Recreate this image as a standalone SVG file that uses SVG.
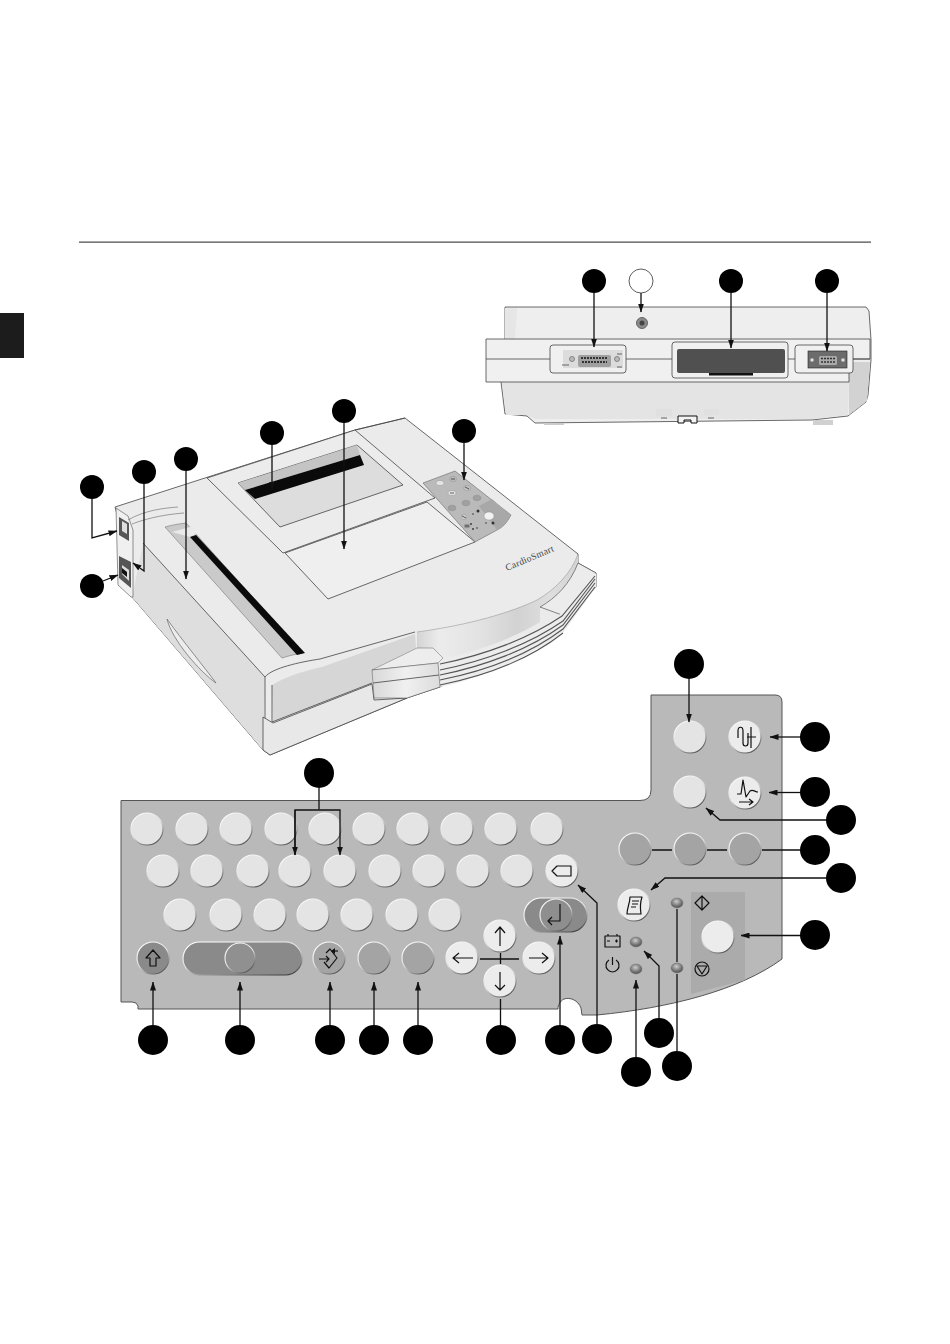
<svg xmlns="http://www.w3.org/2000/svg" width="950" height="1344" viewBox="0 0 950 1344">
<style>
.k{fill:#e4e4e4;stroke:url(#edge);stroke-width:1.2}
.kw{fill:#ececec;stroke:url(#edge);stroke-width:1.2}
.d{fill:#a4a4a4;stroke:url(#edge);stroke-width:1.2}
.dd{fill:#8a8a8a;stroke:url(#edge);stroke-width:1.2}
.c{fill:#000}
.cs{fill:#000}
.ln{fill:none;stroke:#111;stroke-width:1.3}
.ic{fill:none;stroke:#111;stroke-width:1.2;stroke-linejoin:round}
.o{stroke:#444;stroke-width:.8;stroke-linejoin:round}
.t{fill:none;stroke:#444;stroke-width:.8}
.led{fill:url(#led);stroke:#777;stroke-width:.5}
</style>
<defs>
<linearGradient id="edge" x1="0.2" y1="0" x2="0.8" y2="1"><stop offset="0" stop-color="#fff"/><stop offset=".5" stop-color="#ddd"/><stop offset="1" stop-color="#444"/></linearGradient>
<radialGradient id="led" cx=".45" cy=".35" r=".7"><stop offset="0" stop-color="#ccc"/><stop offset=".6" stop-color="#777"/><stop offset="1" stop-color="#444"/></radialGradient>
<linearGradient id="wall" x1="0" y1="0" x2="1" y2="0"><stop offset="0" stop-color="#d4d4d4"/><stop offset=".14" stop-color="#ececec"/><stop offset=".4" stop-color="#e2e2e2"/><stop offset=".62" stop-color="#d2d2d2"/><stop offset=".82" stop-color="#dedede"/><stop offset="1" stop-color="#d4d4d4"/></linearGradient>
<linearGradient id="hand" x1="0" y1="0" x2="1" y2="0"><stop offset="0" stop-color="#d8d8d8"/><stop offset=".5" stop-color="#f0f0f0"/><stop offset="1" stop-color="#dcdcdc"/></linearGradient>
<marker id="a" markerWidth="9" markerHeight="6" refX="8.500" refY="3" orient="auto" markerUnits="userSpaceOnUse"><path d="M0 0L9 3L0 6Z" fill="#111"/></marker>
</defs>
<rect width="950" height="1344" fill="#fff"/>
<rect id="rule" x="79" y="241.6" width="792" height="1" fill="#222"/>
<rect id="tab" x="0" y="313" width="24" height="45" fill="#1c1c1c"/>

<g id="rear-view">
<path class="o" fill="#eeeeee" d="M505 307H866L869 311L871 340V360L868 395L866 402L848 416L812 420L535 423L527 416L505 414L501 382L505 339Z"/>
<path fill="#e4e4e4" d="M502 382H849L848 415L812 419H535L527 415H506Z"/>
<path fill="#d2d2d2" d="M849 362H870L867 401L849 415Z"/>
<path fill="#e6e6e6" d="M505 308H517L515 339H505Z"/>
<path class="o" fill="#f0f0f0" d="M486 339H870V359H849V382H486Z"/>
<path class="t" d="M486 359H550M626 359H672M788 359H795M853 359H870"/>
<rect class="o" x="550" y="345" width="76" height="28" rx="3" fill="#f0f0f0"/>
<rect x="563" y="350" width="60" height="18" fill="#dcdcdc"/>
<rect x="578" y="355" width="33" height="12" rx="2" fill="#a0a0a0"/>
<path fill="none" stroke="#333" stroke-width="2" stroke-dasharray="2 1" d="M581 358H608M582 362H607"/>
<circle cx="572" cy="359" r="2.500" fill="#bbb" stroke="#666" stroke-width=".7"/><circle cx="617" cy="359" r="2.500" fill="#bbb" stroke="#666" stroke-width=".7"/>
<path class="t" d="M562 365H569M617 354H622M617 367H622"/>
<rect class="o" x="672" y="342" width="116" height="36" rx="3" fill="#f0f0f0"/>
<rect x="677" y="349" width="108" height="24" rx="2" fill="#505050"/>
<rect x="709" y="373" width="44" height="2.500" fill="#111"/>
<rect class="o" x="795" y="345" width="58" height="28" rx="3" fill="#f0f0f0"/>
<rect x="808" y="351" width="39" height="17" fill="#6c6c6c" stroke="#222" stroke-width=".6"/>
<rect x="819" y="356" width="18" height="9" rx="1.500" fill="#aaa"/>
<path fill="none" stroke="#333" stroke-width="1.500" stroke-dasharray="2 1" d="M821 358.500H835M821 362H835"/>
<circle cx="812" cy="360" r="1.800" fill="#ddd"/><circle cx="843" cy="360" r="1.800" fill="#ddd"/>
<circle cx="642" cy="323" r="5.500" fill="#8a8a8a" stroke="#666"/><circle cx="642" cy="323" r="2.500" fill="#444"/>
<path fill="#e0e0e0" d="M656 417V409H672V416ZM704 416V409H719V415Z"/>
<path class="t" d="M661 418H667M708 418H714" stroke-width="1.400"/>
<path fill="#f4f4f4" stroke="#111" stroke-width="1" d="M678 423V416H697V423H691V420H684V423Z"/>
<rect x="544" y="423" width="20" height="2" fill="#ccc"/><rect x="813" y="420" width="20" height="5" fill="#d0d0d0"/>
</g>

<g id="printer">
<path fill="#ebebeb" class="o" d="M115 507L205 478L355 430L405 418L578 554V563L596 573V587L563 622L440 687L407 698L270 755L263 750L132 597L131 565L115 507Z"/>
<!-- side face -->
<path fill="#dedede" d="M143 543L265 677L263 750L132 597Z"/>
<path fill="#ececec" d="M131 512L143 543L132 597Z"/>
<path class="t" d="M143 543L265 677V750"/>
<path fill="#ededed" stroke="#666" stroke-width=".7" d="M167 619C172 640 200 672 216 683C205 668 182 640 167 619Z"/>
<!-- left end -->
<path fill="#f0f0f0" stroke="#666" stroke-width=".7" d="M116 508L128 516L133 530V597H131L118 585Z"/>
<path fill="#555" d="M119 517L129 523V541L119 535Z"/>
<path fill="#ddd" d="M122 521L127 524V534L122 531Z"/>
<path fill="#f0f0f0" d="M119 538L131 543V559L119 553Z"/>
<path fill="#555" d="M119 556L131 562V588L119 578Z"/>
<path fill="#ddd" d="M122 565L129 570V581L122 574Z"/>
<path fill="#111" d="M122 568L127 572V577L122 573Z"/>
<path class="t" stroke-opacity=".6" d="M128 520C145 510 165 508 178 507M132 524C150 517 170 514 184 513"/>
<!-- printer slot -->
<path fill="#cacaca" stroke="#777" stroke-width=".6" d="M165 527C172 525 178 524 186 523L303 653C296 654 288 656 282 658Z"/>
<path fill="#e9e9e9" d="M172 532L194 526L196 534L190 537Z"/>
<path fill="#0a0a0a" d="M190 537L196 535L305 653L297 655Z"/>
<!-- front block -->
<path fill="#d6d6d6" d="M272 685C288 676 300 672 322 667L415 634L416 648L372 670V683L273 722Z"/>
<path class="t" d="M265 677C272 668 300 662 320 659L415 632M272 685V722L372 683"/>
<path fill="#e8e8e8" class="o" d="M263 717L273 723L372 684L374 700L407 698L270 755L263 750Z"/>
<!-- lid -->
<path fill="#ececec" class="o" d="M207 478L355 430L435 498L283 553Z"/>
<path fill="#dddddd" class="o" d="M238 483L357 445L403 485L280 527Z"/>
<path fill="#c4c4c4" d="M238 483L357 445L360 455L245 490Z"/>
<path fill="#0a0a0a" d="M245 490L360 455L364 465L255 499Z"/>
<path fill="#efefef" class="o" d="M285 553L427 502L475 542L328 599Z"/>
<path class="t" d="M355 430L405 418"/>
<!-- curved wall -->
<path fill="url(#wall)" d="M417 632C470 625 512 612 537 600C555 590 572 572 578 554V563C570 584 556 598 540 606L540 622C510 640 475 652 440 659L417 648Z"/>
<path fill="none" stroke="#999" stroke-width=".6" d="M417 632C470 625 512 612 537 600C555 590 572 572 578 554"/>
<path fill="#ececec" stroke="#555" stroke-width=".7" d="M578 563L596 573C594 582 580 600 562 615L540 607C556 598 570 584 578 563Z"/>
<!-- grooves -->
<path fill="#ececec" d="M440 660C485 652 530 636 562 613L596 573V587L563 633C530 655 485 678 440 687Z"/>
<path fill="none" stroke="#555" stroke-width="1.100" d="M440 664C485 655 530 638 562 616L595 576M440 670C485 661 530 644 563 621L595 579M440 675C485 666 530 649 563 625L595 583M440 680C485 671 530 654 563 629L595 587M440 685C485 676 530 659 563 633"/>
<!-- handle -->
<path fill="#ededed" class="o" d="M372 670L417 648H433L443 658L438 663L372 670Z" stroke-opacity=".5"/>
<path fill="url(#hand)" class="o" d="M372 670L438 663L440 687L407 698H374Z" stroke-opacity=".6"/>
<path class="t" d="M373 683L439 675"/>
<!-- control panel -->
<path fill="#bababa" stroke="#666" stroke-width=".6" d="M423 483L455 471L511 515C506 524 503 527 497 530C488 535 482 538 475 542Z"/>
<path fill="#a8a8a8" d="M479 506L492 499L510 515C506 524 503 527 497 530Z"/>
<g fill="#e4e4e4" stroke="#888" stroke-width=".4">
<ellipse cx="440" cy="483" rx="4" ry="2.600"/><ellipse cx="453" cy="479" rx="3.500" ry="2.600" fill="#bbb"/><ellipse cx="452" cy="493" rx="4" ry="2.600"/><ellipse cx="467" cy="488" rx="3.500" ry="2.600" fill="#c4c4c4"/><ellipse cx="489" cy="516" rx="5" ry="4" fill="#f2f2f2"/>
<ellipse cx="452" cy="508" rx="4" ry="2.800" fill="#a0a0a0"/><ellipse cx="466" cy="503" rx="4" ry="2.800" fill="#a0a0a0"/><ellipse cx="477" cy="498" rx="4" ry="2.800" fill="#a0a0a0"/>
<ellipse cx="464" cy="517" rx="2.800" ry="2.600" fill="#d0d0d0"/><ellipse cx="467" cy="526" rx="3" ry="2" fill="#999"/>
</g>
<path fill="none" stroke="#222" stroke-width=".7" d="M451 479L455 479M465 487L469 489M450 493H454M462 516L466 518M465 526L469 526"/>
<g fill="#333"><circle cx="478" cy="511" r="1.500"/><circle cx="493" cy="523" r="1.500"/><circle cx="473" cy="514" r=".8"/><circle cx="473" cy="529" r=".9"/><circle cx="477" cy="528" r=".8"/><circle cx="471" cy="524" r=".9"/><circle cx="486" cy="523" r=".8"/></g>
<text id="brand" x="507" y="571" transform="rotate(-23 507 571)" font-family="'Liberation Serif',serif" font-size="9.500" letter-spacing=".3" fill="#444">CardioSmart</text>
</g>

<g id="keypad">
<path fill="#b9b9b9" stroke="#555" stroke-width="1" d="M121 800.500H640Q651 800.500 651 790V695H775Q782 695 782 702V959C740 990 670 1008 597 1015H582L581 1008C578 1000 570 997 564 999C560 1001 558 1005 558 1009H138V1006Q137 1002 132 1002H121Z"/>
<path fill="#ababab" d="M691 892H745V980L691 994Z"/>
</g>
<g id="keys">
<circle class="k" cx="147" cy="829" r="16"/><circle class="k" cx="192" cy="829" r="16"/><circle class="k" cx="236" cy="829" r="16"/><circle class="k" cx="281" cy="829" r="16"/><circle class="k" cx="325" cy="829" r="16"/><circle class="k" cx="369" cy="829" r="16"/><circle class="k" cx="413" cy="829" r="16"/><circle class="k" cx="457" cy="829" r="16"/><circle class="k" cx="501" cy="829" r="16"/><circle class="k" cx="547" cy="829" r="16"/>
<circle class="k" cx="163" cy="871" r="16"/><circle class="k" cx="207" cy="871" r="16"/><circle class="k" cx="253" cy="871" r="16"/><circle class="k" cx="295" cy="871" r="16"/><circle class="k" cx="340" cy="871" r="16"/><circle class="k" cx="385" cy="871" r="16"/><circle class="k" cx="429" cy="871" r="16"/><circle class="k" cx="473" cy="871" r="16"/><circle class="k" cx="517" cy="871" r="16"/>
<circle class="k" cx="180" cy="915" r="16"/><circle class="k" cx="226" cy="915" r="16"/><circle class="k" cx="270" cy="915" r="16"/><circle class="k" cx="313" cy="915" r="16"/><circle class="k" cx="357" cy="915" r="16"/><circle class="k" cx="402" cy="915" r="16"/><circle class="k" cx="445" cy="915" r="16"/>
<g id="key-backspace"><circle class="kw" cx="562" cy="871" r="16"/><path class="ic" d="M552 871L557 866H571V876H557Z"/></g>
<g id="key-shift"><circle class="dd" cx="153" cy="958" r="16"/><path class="ic" d="M153 950L146 958H150V966H156V958H160Z"/></g>
<g id="key-space"><rect class="dd" x="183" y="942" width="119" height="33" rx="16.500"/><circle fill="#909090" stroke="url(#edge)" stroke-width="1.200" cx="240" cy="958" r="15"/></g>
<g id="key-menu"><circle class="d" cx="329" cy="958" r="16"/><path class="ic" d="M326 953L330 949L337 958L329 968L324 962M319 959H329M326 956L329 959L326 962"/><path class="ic" d="M332 951H338"/><path d="M331 951L335 948V954Z" fill="#111"/></g>
<circle id="key-f1" class="d" cx="374" cy="958" r="16"/>
<circle id="key-f2" class="d" cx="418" cy="958" r="16"/>
<g id="key-enter"><rect class="dd" x="524" y="898" width="63" height="34" rx="17"/><circle fill="#8e8e8e" stroke="url(#edge)" stroke-width="1.200" cx="556" cy="915" r="16"/><path class="ic" d="M560 904V921H548M552 917L548 921L552 925" stroke-width="1.300"/></g>
<g id="key-up"><circle class="kw" cx="500" cy="936" r="16"/><path class="ic" d="M500 946V927M495 933L500 927L505 933"/></g>
<g id="key-left"><circle class="kw" cx="462" cy="958" r="16"/><path class="ic" d="M473 958H453M459 953L453 958L459 963"/></g>
<g id="key-right"><circle class="kw" cx="539" cy="958" r="16"/><path class="ic" d="M529 958H548M542 953L548 958L542 963"/></g>
<g id="key-down"><circle class="kw" cx="500" cy="981" r="16"/><path class="ic" d="M500 972V990M495 985L500 990L505 985"/></g>
<g id="key-print"><circle class="kw" cx="634" cy="905" r="16"/><path class="ic" d="M630 897H642C640 903 640 908 641 914H627C627 908 630 903 630 897ZM632 901H639M632 904H638M631 907H636"/></g>
<g id="key-start"><circle class="kw" cx="718" cy="937" r="16"/></g>
<circle id="key-a" class="k" cx="690" cy="737" r="16"/>
<g id="key-signal"><circle class="kw" cx="745" cy="737" r="16"/><path class="ic" d="M738 738V731C738 726 743 726 743 731V743C743 747 748 747 748 743V733M751 727V748M747 737H756"/></g>
<circle id="key-b" class="k" cx="690" cy="792" r="16"/>
<g id="key-ecg"><circle class="kw" cx="745" cy="793" r="16"/><path class="ic" d="M737 794H741L743 780L746 797L750 791C753 789 755 792 758 792M739 802H752M749 799L753 802L749 805"/></g>
<circle id="key-c" class="d" cx="635" cy="849" r="16"/>
<circle id="key-d" class="d" cx="690" cy="849" r="16"/>
<circle id="key-e" class="d" cx="745" cy="849" r="16"/>
<g id="indicators">
<ellipse class="led" cx="677" cy="903" rx="6" ry="5"/><ellipse class="led" cx="636" cy="942" rx="6" ry="5"/><ellipse class="led" cx="636" cy="969" rx="6" ry="5"/><ellipse class="led" cx="677" cy="968" rx="6" ry="5"/>
<path class="ic" d="M605 936H620V947H605ZM608 936V934M617 936V934M607 941H610M615 941H618M616.500 939.500V942.500"/>
<path class="ic" d="M609 960A6.500 6.500 0 1 0 616 960M612.500 957V965"/>
<path class="ic" d="M702 896L709 903L702 910L695 903ZM702 897V909"/>
<circle class="ic" cx="702" cy="969" r="7"/><path class="ic" d="M697 966H707L702 974Z"/>
</g>
</g>

<g id="connectors">
<path class="ln" marker-end="url(#a)" d="M594 293V347"/>
<path class="ln" marker-end="url(#a)" d="M641 293V312"/>
<path class="ln" marker-end="url(#a)" d="M731 293V348"/>
<path class="ln" marker-end="url(#a)" d="M827 293V351"/>
<path class="ln" marker-end="url(#a)" d="M92 499V538L117 531"/>
<path class="ln" marker-end="url(#a)" d="M144 484V571L133 563"/>
<path class="ln" marker-end="url(#a)" d="M103 581L118 575"/>
<path class="ln" marker-end="url(#a)" d="M186 471V579"/>
<path class="ln" marker-end="url(#a)" d="M272 445V490"/>
<path class="ln" marker-end="url(#a)" d="M344 423V549"/>
<path class="ln" marker-end="url(#a)" d="M464 443V480"/>
<path class="ln" d="M319 788V809.500"/>
<path class="ln" marker-end="url(#a)" d="M295 855V810H340V855"/>
<path class="ln" marker-end="url(#a)" d="M295 810V855"/>
<path class="ln" marker-end="url(#a)" d="M689 679V722"/>
<path class="ln" marker-end="url(#a)" d="M801 737H770"/>
<path class="ln" marker-end="url(#a)" d="M801 792.500H769"/>
<path class="ln" marker-end="url(#a)" d="M827 820H720L706 808"/>
<path class="ln" d="M801 850H762M707 850H727M652 850H672"/>
<path class="ln" marker-end="url(#a)" d="M827 878H665L651 890"/>
<path class="ln" marker-end="url(#a)" d="M801 935.500H741"/>
<path class="ln" marker-end="url(#a)" d="M153 1025V982"/>
<path class="ln" marker-end="url(#a)" d="M240 1025V982"/>
<path class="ln" marker-end="url(#a)" d="M330 1025V982"/>
<path class="ln" marker-end="url(#a)" d="M374 1025V982"/>
<path class="ln" marker-end="url(#a)" d="M418 1025V982"/>
<path class="ln" d="M500.500 1025V999M480 959H519M500.500 953V964"/>
<path class="ln" marker-end="url(#a)" d="M560 1025V936"/>
<path class="ln" marker-end="url(#a)" d="M597 1024V903L578 885"/>
<path class="ln" marker-end="url(#a)" d="M659 1018V966L644 951"/>
<path class="ln" marker-end="url(#a)" d="M636 1057V980"/>
<path class="ln" d="M677 1051V974M677 962V909" stroke="#555"/>
</g>

<g id="callouts">
<circle id="n1" class="cs" cx="594" cy="281" r="12"/>
<circle id="n2" cx="641" cy="281" r="12" fill="#fff" stroke="#333" stroke-width=".8"/>
<circle id="n3" class="cs" cx="731" cy="281" r="12"/>
<circle id="n4" class="cs" cx="827" cy="281" r="12"/>
<circle id="n5" class="cs" cx="344" cy="411" r="12"/>
<circle id="n6" class="cs" cx="272" cy="433" r="12"/>
<circle id="n7" class="cs" cx="464" cy="431" r="12"/>
<circle id="n8" class="cs" cx="186" cy="459" r="12"/>
<circle id="n9" class="cs" cx="144" cy="472" r="12"/>
<circle id="n10" class="cs" cx="92" cy="487" r="12"/>
<circle id="n11" class="cs" cx="92" cy="586" r="12"/>
<circle id="n12" class="c" cx="689" cy="664" r="15"/>
<circle id="n13" class="c" cx="815" cy="737" r="15"/>
<circle id="n14" class="c" cx="815" cy="792" r="15"/>
<circle id="n15" class="c" cx="841" cy="820" r="15"/>
<circle id="n16" class="c" cx="815" cy="850" r="15"/>
<circle id="n17" class="c" cx="841" cy="878" r="15"/>
<circle id="n18" class="c" cx="815" cy="935" r="15"/>
<circle id="n19" class="c" cx="319" cy="773" r="15"/>
<circle id="n20" class="c" cx="153" cy="1040" r="15"/>
<circle id="n21" class="c" cx="240" cy="1040" r="15"/>
<circle id="n22" class="c" cx="330" cy="1040" r="15"/>
<circle id="n23" class="c" cx="374" cy="1040" r="15"/>
<circle id="n24" class="c" cx="418" cy="1040" r="15"/>
<circle id="n25" class="c" cx="501" cy="1040" r="15"/>
<circle id="n26" class="c" cx="560" cy="1040" r="15"/>
<circle id="n27" class="c" cx="597" cy="1039" r="15"/>
<circle id="n28" class="c" cx="659" cy="1033" r="15"/>
<circle id="n29" class="c" cx="636" cy="1072" r="15"/>
<circle id="n30" class="c" cx="677" cy="1066" r="15"/>
</g>
</svg>
